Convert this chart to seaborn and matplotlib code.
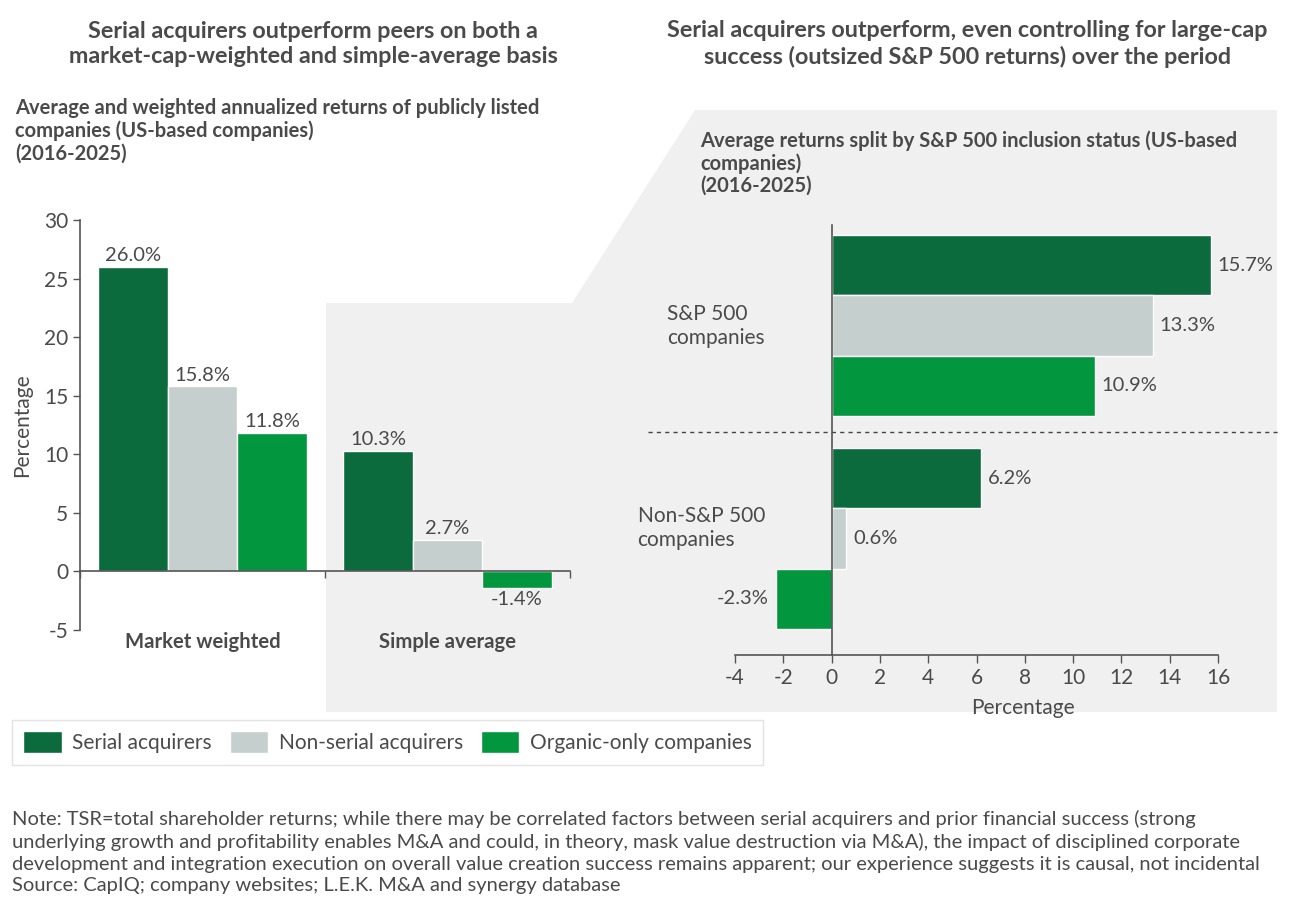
import pandas as pd
import matplotlib
matplotlib.use("Agg")
import matplotlib.pyplot as plt
from matplotlib.patches import Polygon
import seaborn as sns

# data
series = ["Serial acquirers", "Non-serial acquirers", "Organic-only companies"]
colors = ["#0b6b3d", "#c5cfcd", "#02963e"]

groups_left = ["Market weighted", "Simple average"]
serial_left = [26.0, 10.3]
nonserial_left = [15.8, 2.7]
organic_left = [11.8, -1.4]

groups_right = ["S&P 500\ncompanies", "Non-S&P 500\ncompanies"]
serial_right = [15.7, 6.2]
nonserial_right = [13.3, 0.6]
organic_right = [10.9, -2.3]

left_yticks = [-5, 0, 5, 10, 15, 20, 25, 30]
right_xticks = [-4, -2, 0, 2, 4, 6, 8, 10, 12, 14, 16]

title_left = "Serial acquirers outperform peers on both a\nmarket-cap-weighted and simple-average basis"
title_right = "Serial acquirers outperform, even controlling for large-cap\nsuccess (outsized S&P 500 returns) over the period"
sub_left = ("Average and weighted annualized returns of publicly listed\n"
            "companies (US-based companies)\n(2016-2025)")
sub_right = ("Average returns split by S&P 500 inclusion status (US-based\n"
             "companies)\n(2016-2025)")
note = ("Note: TSR=total shareholder returns; while there may be correlated factors between serial acquirers and prior financial success (strong\n"
        "underlying growth and profitability enables M&A and could, in theory, mask value destruction via M&A), the impact of disciplined corporate\n"
        "development and integration execution on overall value creation success remains apparent; our experience suggests it is causal, not incidental\n"
        "Source: CapIQ; company websites; L.E.K. M&A and synergy database")


def to_long(groups, vals):
    rows = []
    for s, v in zip(series, vals):
        for g, x in zip(groups, v):
            rows.append({"group": g, "series": s, "value": x})
    return pd.DataFrame(rows)


df_left = to_long(groups_left, [serial_left, nonserial_left, organic_left])
df_right = to_long(groups_right, [serial_right, nonserial_right, organic_right])

sns.set_style("white")
plt.rcParams["font.family"] = ["Lato", "DejaVu Sans"]
plt.rcParams["axes.unicode_minus"] = False
TXT = "#4a4a4a"
AX = "#555555"

W, H = 1300, 913
fig = plt.figure(figsize=(13, 9.13), dpi=100)


def fx(px):
    return px / W


def fy(py):
    return 1 - py / H


# grey background panel
bg = Polygon([(fx(326), fy(303)), (fx(572), fy(303)), (fx(695), fy(110)),
              (fx(1277), fy(110)), (fx(1277), fy(712)), (fx(326), fy(712))],
             closed=True, facecolor="#f0f0f0", edgecolor="none",
             transform=fig.transFigure, zorder=-1)
fig.patches.append(bg)

# left chart
ax1 = fig.add_axes([fx(80), fy(630), 490 / W, 410 / H])
ax1.set_facecolor("none")
sns.barplot(data=df_left, x="group", y="value", hue="series", palette=colors,
            saturation=1, width=0.85, edgecolor="white", linewidth=1, ax=ax1)
handles, labels = ax1.get_legend_handles_labels()
ax1.get_legend().remove()
for c in ax1.containers:
    ax1.bar_label(c, fmt="%.1f%%", padding=2, fontsize=14.5, color=TXT)
ax1.set_ylim(-5, 30)
ax1.set_xlim(-0.5, 1.5)
ax1.set_yticks(left_yticks)
ax1.set_xticks([-0.5, 0.5, 1.5])
ax1.set_xticklabels([])
for sp in ["top", "right"]:
    ax1.spines[sp].set_visible(False)
ax1.spines["bottom"].set_position(("data", 0))
for sp in ["left", "bottom"]:
    ax1.spines[sp].set_color(AX)
    ax1.spines[sp].set_linewidth(1.2)
ax1.tick_params(axis="both", direction="out", length=5, width=1, color=AX,
                labelsize=15, labelcolor=TXT, left=True, bottom=True)
ax1.set_xlabel("")
ax1.set_ylabel("Percentage", fontsize=15, color=TXT)
ax1.yaxis.set_label_coords(-0.098, 0.5)
for i, g in enumerate(groups_left):
    ax1.text(i, -6.0, g, ha="center", va="center", fontsize=14.6,
             fontweight="bold", color=TXT)

# right chart
ax2 = fig.add_axes([fx(735), fy(655), 483 / W, 430 / H])
ax2.set_facecolor("none")
sns.barplot(data=df_right, y="group", x="value", hue="series", palette=colors,
            saturation=1, width=0.85, edgecolor="white", linewidth=1,
            orient="h", legend=False, ax=ax2)
for c in ax2.containers:
    ax2.bar_label(c, fmt="%.1f%%", padding=5, fontsize=14.5, color=TXT)
ax2.set_xlim(-4, 16)
ax2.set_ylim(1.547, -0.472)
ax2.set_xticks(right_xticks)
ax2.set_yticks([])
for sp in ["top", "right"]:
    ax2.spines[sp].set_visible(False)
ax2.spines["left"].set_position(("data", 0))
for sp in ["left", "bottom"]:
    ax2.spines[sp].set_color(AX)
    ax2.spines[sp].set_linewidth(1.2)
ax2.tick_params(axis="x", direction="out", length=6, width=1, color=AX,
                labelsize=15, labelcolor=TXT, bottom=True)
ax2.set_ylabel("")
ax2.set_xlabel("Percentage", fontsize=15, color=TXT)
ax2.xaxis.set_label_coords(0.596, -0.1)
ax2.axhline(0.5, xmin=-0.18, xmax=1.128, color="#444444", linestyle=(0, (3, 3)),
            linewidth=1, clip_on=False)
label_offsets = [0.0, -0.05]
for i, g in enumerate(groups_right):
    ax2.text(-2.76, i + label_offsets[i], g, ha="right", va="center",
             multialignment="left", fontsize=15, color=TXT, linespacing=1.25)

# titles and subtitles
fig.text(fx(313), fy(44), title_left, ha="center", va="center", fontsize=16.8,
         fontweight="bold", color=TXT, linespacing=1.25)
fig.text(fx(967), fy(44), title_right, ha="center", va="center", fontsize=16.8,
         fontweight="bold", color=TXT, linespacing=1.25)
fig.text(fx(15), fy(98), sub_left, ha="left", va="top", fontsize=14.5,
         fontweight="bold", color=TXT, linespacing=1.15)
fig.text(fx(700), fy(130), sub_right, ha="left", va="top", fontsize=14.5,
         fontweight="bold", color=TXT, linespacing=1.15)

# legend
leg = fig.legend(handles, labels, loc="upper left",
                 bbox_to_anchor=(fx(12), fy(720)), borderaxespad=0, ncol=3,
                 frameon=True, fancybox=False, edgecolor="#dddddd",
                 fontsize=15, handlelength=1.85, handleheight=1.25,
                 handletextpad=0.5, columnspacing=0.85, borderpad=0.55,
                 labelcolor=TXT)
leg.get_frame().set_linewidth(1)

fig.text(fx(12), fy(810), note, ha="left", va="top", fontsize=14.5,
         color=TXT, linespacing=1.33)

fig.savefig("out.png", dpi=100, facecolor="white")
